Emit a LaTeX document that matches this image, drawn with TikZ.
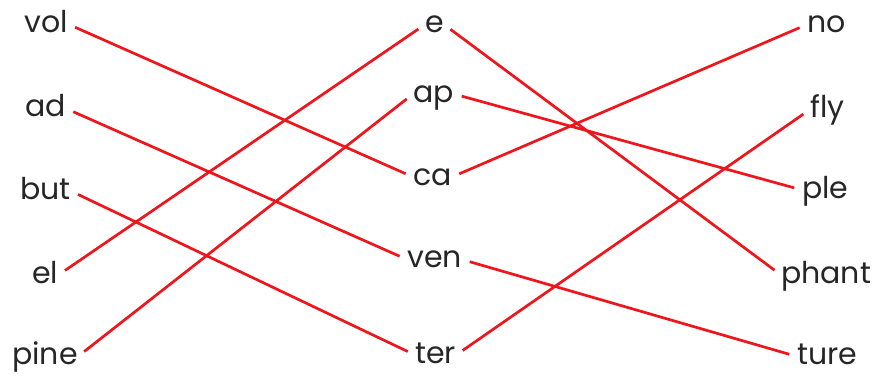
\documentclass[tikz,border=0pt]{standalone}
\usepackage{fontspec}
\setmainfont{Poppins}
\definecolor{linered}{RGB}{238,22,28}
\tikzset{
  lbl/.style={inner sep=0pt, text height=16pt, text depth=0pt, font=\fontsize{30}{30}\selectfont, text=black!85},
  lw/.style={lbl, anchor=west},
  link/.style={draw=linered, line width=2.7pt, shorten <=8pt, shorten >=8pt}
}
\begin{document}
\begin{tikzpicture}[x=1pt,y=-1pt]
\useasboundingbox (0,0) rectangle (880,375);
% left column
\node[lw] (vol)  at (24,24) {vol};
\node[lw] (ad)   at (25,108.5) {ad};
\node[lw] (but)  at (20,191) {but};
\node[lw] (el)   at (32,275) {el};
\node[lw] (pine) at (12,356.5) {pine};
% middle column
\node[lw] (e)   at (425,24.5) {e};
\node[lw] (ap)  at (413,94) {ap};
\node[lw] (ca)  at (413,177) {ca};
\node[lw] (ven) at (407,259.5) {ven};
\node[lw] (ter) at (415,355) {ter};
% right column
\node[lw] (no)    at (807,24.5) {no};
\node[lw] (fly)   at (810,109.5) {fly};
\node[lw] (ple)   at (802,190) {ple};
\node[lw] (phant) at (781,275) {phant};
\node[lw] (ture)  at (797,356.5) {ture};
% links
\draw[link] (vol.east) -- (ca.west);
\draw[link] (ad.east) -- (ven.west);
\draw[link] (but.east) -- (ter.west);
\draw[link] (el.east) -- (e.west);
\draw[link] (pine.east) -- (ap.west);
\draw[link] (e.east) -- (phant.west);
\draw[link] (ap.east) -- (ple.west);
\draw[link] (ca.east) -- (no.west);
\draw[link] (ven.east) -- (ture.west);
\draw[link] (ter.east) -- (fly.west);
\end{tikzpicture}
\end{document}
